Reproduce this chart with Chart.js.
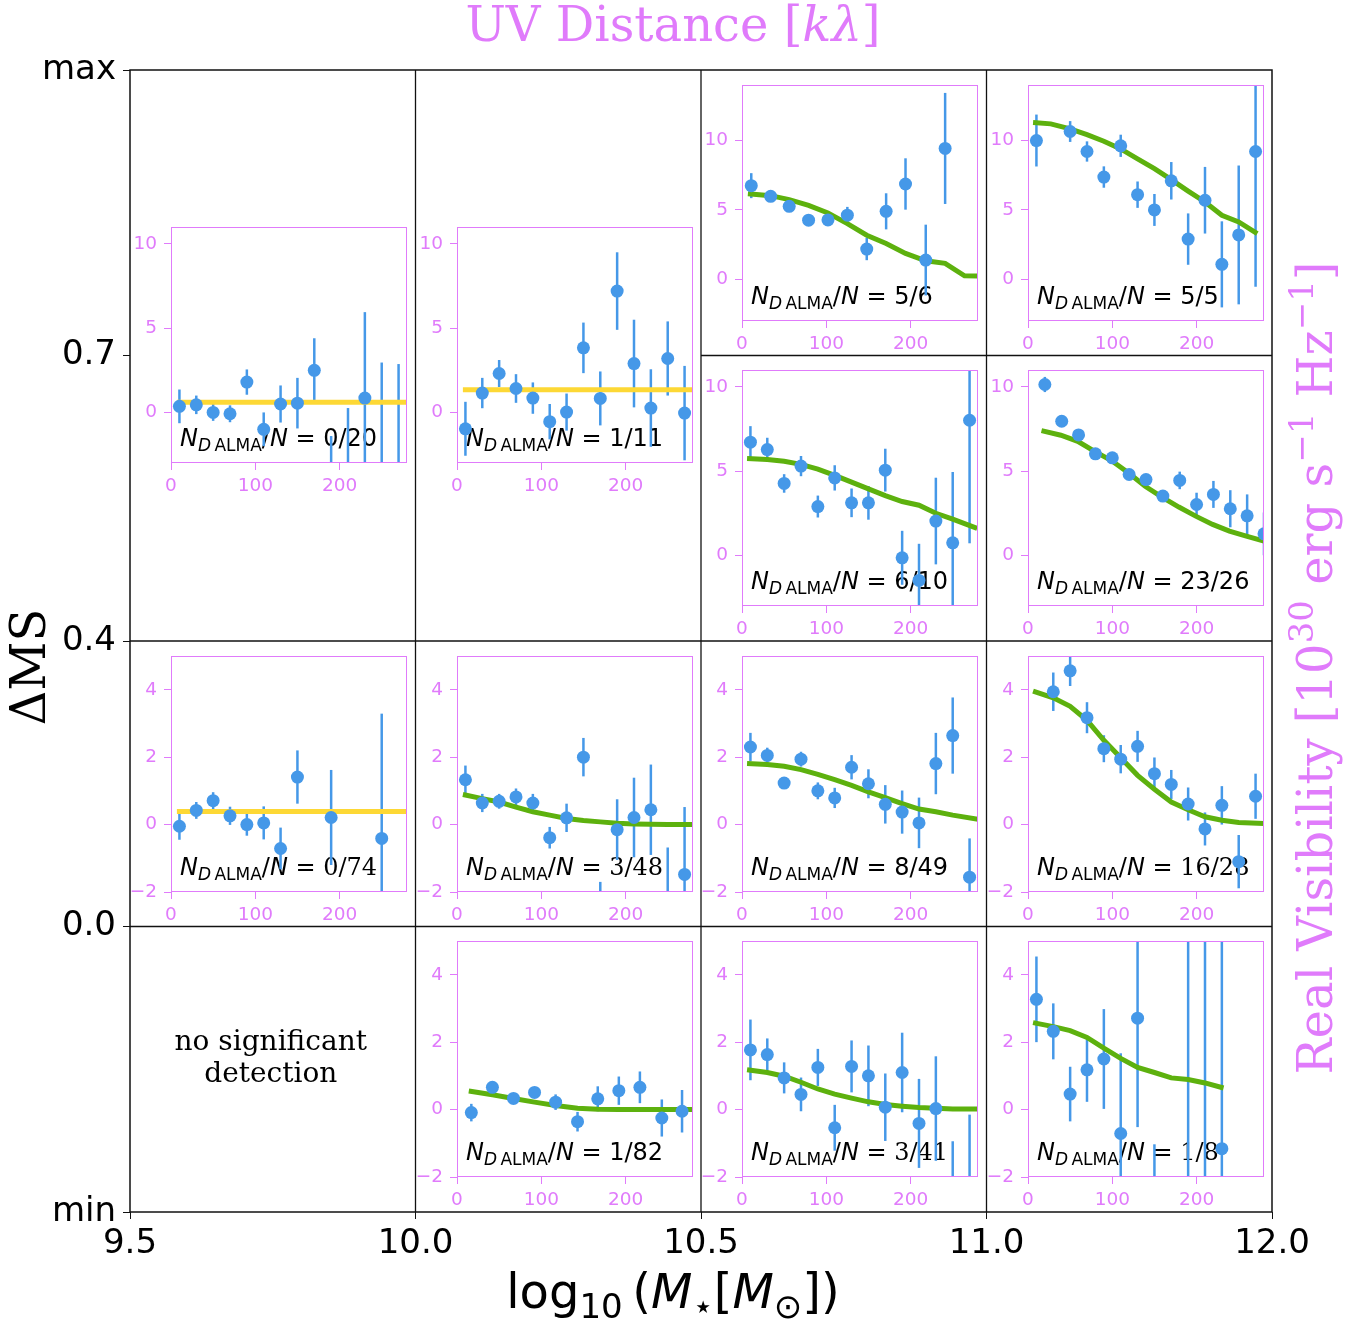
<!DOCTYPE html>
<html>
<head>
<meta charset="utf-8">
<title>UV visibility profiles by stellar mass and ΔMS</title>
<script src="https://cdn.jsdelivr.net/npm/chart.js@4.4.1/dist/chart.umd.min.js"></script>
<style>
  body { margin: 0; background: #fff; }
  #wrap { position: relative; width: 1365px; height: 1325px; }
  #wrap canvas { position: absolute; left: 0; top: 0; }
</style>
</head>
<body>
<div id="wrap"><canvas id="main" width="1365" height="1325"></canvas></div>
<script>
// outer grid: stellar-mass bins along x, ΔMS bins along y
const massLabels = ['9.5', '10.0', '10.5', '11.0', '12.0'];
const dmsLabels = ['min', '0.0', '0.4', '0.7', 'max'];
const mergedHighCols = 2; // below 10.5 the two ΔMS bins above 0.4 are stacked together

// A: 9.5-10.0, ΔMS > 0.4
const uvA = [10, 30, 50, 70, 90, 110, 130, 150, 170, 190, 210, 230, 250, 270];
const visA = [0.36, 0.45, 0.0, -0.08, 1.8, -1.0, 0.5, 0.55, 2.5, -4.5, -5.0, 0.85, -4.0, -4.5];
const errA = [1.0, 0.55, 0.5, 0.5, 0.75, 1.0, 1.1, 1.5, 1.9, 3.1, 5.26, 5.1, 6.96, 7.37];
const fitUvA = [7, 280];
const fitVisA = [0.6, 0.6];

// B: 10.0-10.5, ΔMS > 0.4
const uvB = [10, 30, 50, 70, 90, 110, 130, 150, 170, 190, 210, 230, 250, 270];
const visB = [-0.97, 1.15, 2.31, 1.42, 0.85, -0.55, 0.02, 3.83, 0.83, 7.2, 2.9, 0.26, 3.2, -0.04];
const errB = [1.6, 0.9, 0.8, 0.85, 0.93, 1.05, 1.1, 1.5, 1.6, 2.3, 2.6, 2.3, 2.2, 2.8];
const fitUvB = [7, 280];
const fitVisB = [1.34, 1.34];

// C: 10.5-11.0, ΔMS > 0.7
const uvC = [11, 34, 56, 79, 102, 125, 148, 171, 194, 218, 241];
const visC = [6.75, 5.98, 5.26, 4.26, 4.28, 4.62, 2.18, 4.9, 6.87, 1.39, 9.43];
const errC = [0.9, 0.3, 0.3, 0.3, 0.4, 0.6, 0.8, 1.3, 1.85, 2.55, 4.0];
const fitUvC = [7, 34, 56, 79, 102, 125, 148, 171, 194, 218, 241, 264, 280];
const fitVisC = [6.17, 6.03, 5.74, 5.33, 4.78, 4.02, 3.18, 2.58, 1.87, 1.34, 1.15, 0.26, 0.24];

// D: 11.0-12.0, ΔMS > 0.7
const uvD = [10, 50, 70, 90, 110, 130, 150, 170, 190, 210, 230, 250, 270];
const visD = [10.0, 10.65, 9.21, 7.37, 9.62, 6.1, 5.0, 7.1, 2.9, 5.7, 1.08, 3.2, 9.21];
const errD = [1.87, 0.75, 0.73, 0.77, 0.8, 0.95, 1.15, 1.35, 1.85, 2.4, 3.1, 5.0, 9.74];
const fitUvD = [6, 27, 50, 70, 90, 110, 130, 150, 170, 190, 210, 230, 250, 272];
const fitVisD = [11.3, 11.2, 10.84, 10.43, 9.95, 9.4, 8.68, 7.97, 7.18, 6.36, 5.57, 4.62, 4.14, 3.3];

// E: 10.5-11.0, 0.4-0.7
const uvE = [10, 30, 50, 70, 90, 110, 130, 150, 170, 190, 210, 230, 250, 270];
const visE = [6.72, 6.28, 4.27, 5.3, 2.9, 4.6, 3.12, 3.12, 5.06, -0.14, -1.48, 2.04, 0.75, 8.02];
const errE = [0.95, 0.7, 0.55, 0.6, 0.65, 0.75, 0.85, 1.0, 1.27, 1.6, 2.17, 2.57, 4.2, 7.3];
const fitUvE = [6, 30, 50, 70, 90, 110, 130, 150, 170, 190, 210, 230, 250, 279];
const fitVisE = [5.75, 5.69, 5.59, 5.4, 5.12, 4.75, 4.35, 3.95, 3.55, 3.2, 2.98, 2.5, 2.15, 1.6];

// F: 11.0-12.0, 0.4-0.7
const uvF = [20, 40, 60, 80, 100, 120, 140, 160, 180, 200, 220, 240, 260, 280];
const visF = [10.14, 7.96, 7.15, 6.03, 5.79, 4.8, 4.5, 3.52, 4.45, 3.02, 3.62, 2.77, 2.35, 1.28];
const errF = [0.45, 0.2, 0.3, 0.2, 0.2, 0.2, 0.2, 0.3, 0.52, 0.7, 0.8, 1.1, 1.27, 1.27];
const fitUvF = [16, 39, 59, 79, 99, 119, 139, 159, 179, 199, 219, 239, 259, 280];
const fitVisF = [7.4, 7.13, 6.77, 6.17, 5.63, 4.9, 4.1, 3.46, 2.87, 2.33, 1.84, 1.44, 1.15, 0.85];

// G: 9.5-10.0, 0.0-0.4
const uvG = [10, 30, 50, 70, 90, 110, 130, 150, 190, 250];
const visG = [-0.05, 0.42, 0.71, 0.26, 0.0, 0.05, -0.71, 1.41, 0.21, -0.41];
const errG = [0.4, 0.25, 0.25, 0.27, 0.33, 0.49, 0.62, 0.79, 1.41, 3.7];
const fitUvG = [7, 280];
const fitVisG = [0.39, 0.39];

// H: 10.0-10.5, 0.0-0.4
const uvH = [10, 30, 50, 70, 90, 110, 130, 150, 170, 190, 210, 230, 250, 270];
const visH = [1.33, 0.64, 0.69, 0.82, 0.64, -0.39, 0.2, 2.0, -3.0, -0.15, 0.21, 0.44, -2.8, -1.48];
const errH = [0.42, 0.27, 0.22, 0.25, 0.27, 0.32, 0.42, 0.57, 1.3, 0.9, 1.18, 1.34, 2.12, 2.0];
const fitUvH = [7, 30, 50, 70, 90, 110, 130, 150, 170, 190, 210, 230, 250, 280];
const fitVisH = [0.89, 0.77, 0.67, 0.52, 0.38, 0.28, 0.18, 0.12, 0.08, 0.04, 0.02, 0.01, 0, 0];

// I: 10.5-11.0, 0.0-0.4
const uvI = [10, 30, 50, 70, 90, 110, 130, 150, 170, 190, 210, 230, 250, 270];
const visI = [2.3, 2.05, 1.23, 1.94, 1.0, 0.79, 1.7, 1.21, 0.6, 0.37, 0.05, 1.81, 2.64, -1.56];
const errI = [0.42, 0.23, 0.15, 0.22, 0.25, 0.3, 0.36, 0.43, 0.57, 0.64, 0.75, 0.91, 1.13, 1.15];
const fitUvI = [6, 30, 50, 70, 90, 110, 130, 150, 170, 190, 210, 230, 250, 280];
const fitVisI = [1.81, 1.78, 1.73, 1.63, 1.49, 1.33, 1.16, 0.97, 0.8, 0.62, 0.46, 0.38, 0.28, 0.16];

// J: 11.0-12.0, 0.0-0.4
const uvJ = [30, 50, 70, 90, 110, 130, 150, 170, 190, 210, 230, 250, 270];
const visJ = [3.94, 4.56, 3.17, 2.25, 1.94, 2.32, 1.51, 1.19, 0.61, -0.13, 0.57, -1.1, 0.84];
const errJ = [0.57, 0.45, 0.46, 0.4, 0.42, 0.46, 0.48, 0.43, 0.49, 0.49, 0.57, 0.79, 0.67];
const fitUvJ = [6, 30, 50, 70, 90, 110, 130, 150, 170, 190, 210, 230, 250, 280];
const fitVisJ = [3.96, 3.76, 3.51, 3.09, 2.5, 1.98, 1.46, 1.05, 0.67, 0.44, 0.23, 0.13, 0.06, 0.03];

// K: 10.0-10.5, below 0.0
const uvK = [17, 42, 67, 92, 117, 143, 167, 192, 217, 243, 267];
const visK = [-0.09, 0.66, 0.33, 0.51, 0.22, -0.36, 0.32, 0.56, 0.66, -0.25, -0.05];
const errK = [0.26, 0.1, 0.1, 0.12, 0.23, 0.29, 0.37, 0.42, 0.47, 0.55, 0.63];
const fitUvK = [14, 42, 67, 92, 117, 143, 167, 192, 217, 243, 280];
const fitVisK = [0.55, 0.44, 0.33, 0.22, 0.12, 0.04, 0.01, 0, 0, 0, 0];

// L: 10.5-11.0, below 0.0
const uvL = [10, 30, 50, 70, 90, 110, 130, 150, 170, 190, 210, 230, 250, 270];
const visL = [1.77, 1.63, 0.94, 0.45, 1.25, -0.54, 1.28, 1.0, 0.07, 1.1, -0.41, 0.03, -3.0, -3.2];
const errL = [0.9, 0.48, 0.46, 0.5, 0.55, 0.68, 0.77, 0.9, 1.0, 1.18, 1.32, 1.55, 2.06, 3.05];
const fitUvL = [6, 30, 50, 70, 90, 110, 130, 150, 170, 190, 210, 230, 250, 280];
const fitVisL = [1.18, 1.1, 0.99, 0.81, 0.61, 0.46, 0.34, 0.23, 0.15, 0.1, 0.06, 0.04, 0.02, 0.02];

// M: 11.0-12.0, below 0.0
const uvM = [10, 30, 50, 70, 90, 110, 130, 150, 190, 210, 230];
const visM = [3.27, 2.32, 0.46, 1.18, 1.5, -0.71, 2.71, -3.5, -3.0, -2.5, -1.16];
const errM = [1.27, 0.83, 0.81, 0.95, 1.48, 2.38, 3.23, 2.47, 9, 9, 7];
const fitUvM = [6, 30, 50, 70, 90, 110, 130, 150, 170, 190, 210, 232];
const fitVisM = [2.58, 2.46, 2.34, 2.14, 1.82, 1.52, 1.25, 1.1, 0.94, 0.89, 0.79, 0.64];

// detections / sources per panel
const detections = ['0/20', '1/11', '5/6', '5/5', '6/10', '23/26', '0/74', '3/48', '8/49', '16/28', '1/82', '3/41', '1/8'];

const uvTicks = [0, 100, 200];
const tallRange = [-3, 14];
const midRange = [-3, 11];
const lowRange = [-2, 5];
const bigTicks = [0, 5, 10];
const smallTicks = [-2, 0, 2, 4];

const VIOLET = '#e07bfb';
const BLUE = '#4598e8';
const GREEN = '#5db10e';
const GOLD = '#fdd835';

const panels = [
  { uv: uvA, vis: visA, err: errA, fitUv: fitUvA, fitVis: fitVisA, fitColor: GOLD, col: 0, row: 0, span: true, range: midRange, ticks: bigTicks, serif: false },
  { uv: uvB, vis: visB, err: errB, fitUv: fitUvB, fitVis: fitVisB, fitColor: GOLD, col: 1, row: 0, span: true, range: midRange, ticks: bigTicks, serif: false },
  { uv: uvC, vis: visC, err: errC, fitUv: fitUvC, fitVis: fitVisC, fitColor: GREEN, col: 2, row: 0, range: tallRange, ticks: bigTicks, serif: false },
  { uv: uvD, vis: visD, err: errD, fitUv: fitUvD, fitVis: fitVisD, fitColor: GREEN, col: 3, row: 0, range: tallRange, ticks: bigTicks, serif: false },
  { uv: uvE, vis: visE, err: errE, fitUv: fitUvE, fitVis: fitVisE, fitColor: GREEN, col: 2, row: 1, range: midRange, ticks: bigTicks, serif: false },
  { uv: uvF, vis: visF, err: errF, fitUv: fitUvF, fitVis: fitVisF, fitColor: GREEN, col: 3, row: 1, range: midRange, ticks: bigTicks, serif: false },
  { uv: uvG, vis: visG, err: errG, fitUv: fitUvG, fitVis: fitVisG, fitColor: GOLD, col: 0, row: 2, range: lowRange, ticks: smallTicks, serif: true },
  { uv: uvH, vis: visH, err: errH, fitUv: fitUvH, fitVis: fitVisH, fitColor: GREEN, col: 1, row: 2, range: lowRange, ticks: smallTicks, serif: true },
  { uv: uvI, vis: visI, err: errI, fitUv: fitUvI, fitVis: fitVisI, fitColor: GREEN, col: 2, row: 2, range: lowRange, ticks: smallTicks, serif: false },
  { uv: uvJ, vis: visJ, err: errJ, fitUv: fitUvJ, fitVis: fitVisJ, fitColor: GREEN, col: 3, row: 2, range: lowRange, ticks: smallTicks, serif: true },
  { uv: uvK, vis: visK, err: errK, fitUv: fitUvK, fitVis: fitVisK, fitColor: GREEN, col: 1, row: 3, range: lowRange, ticks: smallTicks, serif: false },
  { uv: uvL, vis: visL, err: errL, fitUv: fitUvL, fitVis: fitVisL, fitColor: GREEN, col: 2, row: 3, range: lowRange, ticks: smallTicks, serif: true },
  { uv: uvM, vis: visM, err: errM, fitUv: fitUvM, fitVis: fitVisM, fitColor: GREEN, col: 3, row: 3, range: lowRange, ticks: smallTicks, serif: true }
];

// draws a run of differently styled text pieces on one baseline
function drawRuns(ctx, runs, x, y, align) {
  let total = 0;
  runs.forEach(r => { ctx.font = r.font; r.w = ctx.measureText(r.t).width; total += r.w; });
  let cx = align === 'center' ? x - total / 2 : x;
  ctx.textAlign = 'left';
  ctx.textBaseline = 'alphabetic';
  runs.forEach(r => {
    ctx.font = r.font;
    ctx.fillText(r.t, cx, y + (r.dy || 0));
    cx += r.w;
  });
}

const SANS = "'DejaVu Sans'";
const SERIF = "'DejaVu Serif'";

// bin edges of the outer grid, drawn as lines through the outer scales
const edgeSets = [];
const lastIdx = massLabels.length - 1;
for (let i = 1; i < lastIdx; i++) {
  edgeSets.push([{ x: i, y: 0 }, { x: i, y: lastIdx }]);
}
for (let j = 1; j < dmsLabels.length - 1; j++) {
  const start = j === dmsLabels.length - 2 ? mergedHighCols : 0;
  edgeSets.push([{ x: start, y: j }, { x: lastIdx, y: j }]);
}

const outerDeco = {
  id: 'outerDeco',
  afterDraw(chart) {
    const { ctx, chartArea: a } = chart;
    ctx.save();
    ctx.strokeStyle = '#111';
    ctx.lineWidth = 1.5;
    ctx.strokeRect(a.left, a.top, a.right - a.left, a.bottom - a.top);

    // inset axis titles
    ctx.fillStyle = VIOLET;
    drawRuns(ctx, [
      { t: 'UV Distance [', font: `48px ${SERIF}` },
      { t: 'kλ', font: `italic 48px ${SERIF}` },
      { t: ']', font: `48px ${SERIF}` }
    ], 673, 41, 'center');

    ctx.save();
    ctx.translate(1332, 668);
    ctx.rotate(-Math.PI / 2);
    const sup = { font: `34px ${SERIF}`, dy: -19 };
    drawRuns(ctx, [
      { t: 'Real Visibility [10', font: `48px ${SERIF}` },
      { t: '30', ...sup },
      { t: ' erg s', font: `48px ${SERIF}` },
      { t: '\u22121', ...sup },
      { t: ' Hz', font: `48px ${SERIF}` },
      { t: '\u22121', ...sup },
      { t: ']', font: `48px ${SERIF}` }
    ], 0, 0, 'center');
    ctx.restore();

    // outer axis titles
    ctx.fillStyle = '#000';
    const sub = { font: `34px ${SANS}`, dy: 10 };
    drawRuns(ctx, [
      { t: 'log', font: `48px ${SANS}` },
      { t: '10', ...sub },
      { t: '\u2009(', font: `48px ${SANS}` },
      { t: 'M', font: `italic 48px ${SANS}` },
      { t: '\u22c6', ...sub },
      { t: '[', font: `48px ${SANS}` },
      { t: 'M', font: `italic 48px ${SANS}` },
      { t: '\u2299', ...sub },
      { t: '])', font: `48px ${SANS}` }
    ], 673, 1308, 'center');

    ctx.save();
    ctx.translate(45, 667);
    ctx.rotate(-Math.PI / 2);
    drawRuns(ctx, [{ t: 'ΔMS', font: `48px ${SERIF}` }], 0, 0, 'center');
    ctx.restore();

    // empty low-mass, low-ΔMS bin
    const cx = (chart.scales.x.getPixelForValue(0) + chart.scales.x.getPixelForValue(1)) / 2;
    ctx.font = `28px ${SERIF}`;
    ctx.textAlign = 'center';
    ctx.fillText('no significant', cx - 2, 1050);
    ctx.fillText('detection', cx - 2, 1082);
    ctx.restore();
  }
};

const mainChart = new Chart(document.getElementById('main'), {
  type: 'scatter',
  data: {
    datasets: edgeSets.map(pts => ({
      data: pts,
      showLine: true,
      borderColor: '#111',
      borderWidth: 1.3,
      pointRadius: 0,
      clip: false
    }))
  },
  options: {
    responsive: false,
    animation: false,
    events: [],
    layout: { padding: { top: 70, right: 93, left: 0, bottom: 0 } },
    plugins: { legend: { display: false }, tooltip: { enabled: false } },
    scales: {
      x: {
        type: 'linear', min: 0, max: lastIdx,
        afterBuildTicks: s => { s.ticks = massLabels.map((_, i) => ({ value: i })); },
        afterFit: s => { s.height = 113; s.paddingLeft = 0; s.paddingRight = 0; },
        ticks: { callback: v => massLabels[v], color: '#000', font: { family: 'DejaVu Sans', size: 34 }, padding: 5, maxRotation: 0, autoSkip: false },
        grid: { drawOnChartArea: false, tickLength: 7, color: '#111' },
        border: { display: false }
      },
      y: {
        type: 'linear', min: 0, max: lastIdx,
        afterBuildTicks: s => { s.ticks = dmsLabels.map((_, i) => ({ value: i })); },
        afterFit: s => { s.width = 130; s.paddingTop = 0; s.paddingBottom = 0; },
        ticks: { callback: v => dmsLabels[v], color: '#000', font: { family: 'DejaVu Sans', size: 34 }, padding: 7, autoSkip: false },
        grid: { drawOnChartArea: false, tickLength: 7, color: '#111' },
        border: { display: false }
      }
    }
  },
  plugins: [outerDeco]
});

const wrap = document.getElementById('wrap');
const FRAME = 236, PAD_L = 56, PAD_R = 8, PAD_T = 8, PAD_B = 42;

function makePanel(p, idx) {
  const xs = mainChart.scales.x, ys = mainChart.scales.y;
  const frameL = Math.round(xs.getPixelForValue(p.col) + 41);
  const cellTop = ys.getPixelForValue(lastIdx - p.row);
  const frameT = Math.round(cellTop + (p.span ? 157 : 14.5));

  const cv = document.createElement('canvas');
  cv.width = PAD_L + FRAME + PAD_R;
  cv.height = PAD_T + FRAME + PAD_B;
  cv.style.left = (frameL - PAD_L) + 'px';
  cv.style.top = (frameT - PAD_T) + 'px';
  wrap.appendChild(cv);

  const deco = {
    id: 'panelDeco',
    beforeDatasetsDraw(chart) {
      const { ctx, chartArea: a } = chart;
      const x = chart.scales.x, y = chart.scales.y;
      ctx.save();
      // N_DALMA / N annotation
      ctx.fillStyle = '#000';
      const fs = 24, ss = 17;
      drawRuns(ctx, [
        { t: 'N', font: `italic ${fs}px ${SANS}` },
        { t: 'D', font: `italic ${ss}px ${SANS}`, dy: 4.5 },
        { t: '\u2009ALMA', font: `${ss}px ${SANS}`, dy: 4.5 },
        { t: '/', font: `${fs}px ${SANS}` },
        { t: 'N', font: `italic ${fs}px ${SANS}` },
        { t: ' = ', font: `${fs}px ${SANS}` },
        { t: detections[idx], font: `${fs}px ${p.serif ? SERIF : SANS}` }
      ], a.left + 9, a.bottom - 17, 'left');

      // error bars
      ctx.beginPath();
      ctx.rect(a.left, a.top, a.right - a.left, a.bottom - a.top);
      ctx.clip();
      ctx.strokeStyle = BLUE;
      ctx.lineWidth = 2.5;
      p.uv.forEach((u, i) => {
        const px = x.getPixelForValue(u);
        ctx.beginPath();
        ctx.moveTo(px, y.getPixelForValue(p.vis[i] - p.err[i]));
        ctx.lineTo(px, y.getPixelForValue(p.vis[i] + p.err[i]));
        ctx.stroke();
      });
      ctx.restore();
    },
    afterDraw(chart) {
      const { ctx, chartArea: a } = chart;
      ctx.save();
      ctx.strokeStyle = VIOLET;
      ctx.lineWidth = 1;
      ctx.strokeRect(a.left + 0.5, a.top + 0.5, a.right - a.left - 1, a.bottom - a.top - 1);
      ctx.restore();
    }
  };

  const tickFont = { family: 'DejaVu Sans', size: 18.5 };
  return new Chart(cv, {
    type: 'scatter',
    data: {
      datasets: [
        {
          data: p.uv.map((u, i) => ({ x: u, y: p.vis[i] })),
          backgroundColor: BLUE,
          borderWidth: 0,
          pointRadius: 6.5,
          clip: 0,
          order: 0
        },
        {
          type: 'line',
          data: p.fitUv.map((u, i) => ({ x: u, y: p.fitVis[i] })),
          borderColor: p.fitColor,
          borderWidth: 5,
          pointRadius: 0,
          tension: 0,
          fill: false,
          clip: 0,
          order: 1
        }
      ]
    },
    options: {
      responsive: false,
      animation: false,
      events: [],
      layout: { padding: { top: PAD_T, right: PAD_R, left: 0, bottom: 0 } },
      plugins: { legend: { display: false }, tooltip: { enabled: false } },
      scales: {
        x: {
          type: 'linear', min: 0, max: 280,
          afterBuildTicks: s => { s.ticks = uvTicks.map(v => ({ value: v })); },
          afterFit: s => { s.height = PAD_B; s.paddingLeft = 0; s.paddingRight = 0; },
          ticks: { color: VIOLET, font: tickFont, padding: 5, maxRotation: 0 },
          grid: { drawOnChartArea: false, tickLength: 7, color: VIOLET },
          border: { display: false }
        },
        y: {
          type: 'linear', min: p.range[0], max: p.range[1],
          afterBuildTicks: s => { s.ticks = p.ticks.map(v => ({ value: v })); },
          afterFit: s => { s.width = PAD_L; s.paddingTop = 0; s.paddingBottom = 0; },
          ticks: { color: VIOLET, font: tickFont, padding: 7, callback: v => (v < 0 ? '\u2212' + (-v) : String(v)) },
          grid: { drawOnChartArea: false, tickLength: 7, color: VIOLET },
          border: { display: false }
        }
      }
    },
    plugins: [deco]
  });
}

panels.forEach((p, i) => makePanel(p, i));
</script>
</body>
</html>
